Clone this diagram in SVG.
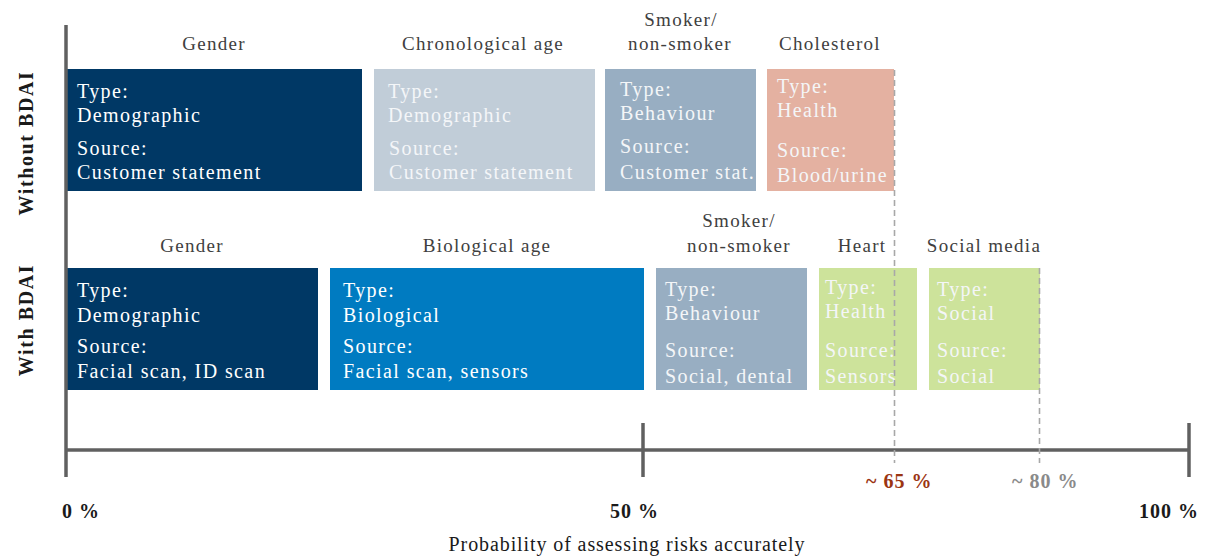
<svg xmlns="http://www.w3.org/2000/svg" width="1207" height="556" viewBox="0 0 1207 556">
<style>
text{font-family:"Liberation Serif","Times New Roman",serif}
.hd{font-size:19px;fill:#404040;letter-spacing:1.3px;text-anchor:middle}
.bx{font-size:20px;fill:#ffffff;letter-spacing:1.4px}
.lt{fill:#f4f6f8}
.side{font-size:20px;font-weight:bold;fill:#1a1a1a;letter-spacing:1.6px;text-anchor:middle}
.pct{font-size:20px;font-weight:bold;fill:#1a1a1a;letter-spacing:1px}
.axis{stroke:#606060;stroke-width:3.5;fill:none}
.dash{stroke:#a8a8a8;stroke-width:1.6;stroke-dasharray:6,4;fill:none}
</style>
<rect width="1207" height="556" fill="#ffffff"/>

<g id="side-labels">
<text class="side" transform="translate(33,143) rotate(-90)">Without BDAI</text>
<text class="side" transform="translate(33,320) rotate(-90)">With BDAI</text>
</g>

<g id="row1-gender">
<text class="hd" x="214" y="50">Gender</text>
<rect x="66" y="69" width="296" height="122" fill="#003865"/>
<text class="bx" x="77" y="98">Type:</text>
<text class="bx" x="77" y="122">Demographic</text>
<text class="bx" x="77" y="155">Source:</text>
<text class="bx" x="77" y="179">Customer statement</text>
</g>

<g id="row1-chronological-age">
<text class="hd" x="483" y="50">Chronological age</text>
<rect x="374" y="69" width="221" height="122" fill="#c1cdd8"/>
<text class="bx lt" x="388" y="98">Type:</text>
<text class="bx lt" x="388" y="122">Demographic</text>
<text class="bx lt" x="389" y="155">Source:</text>
<text class="bx lt" x="389" y="179">Customer statement</text>
</g>

<g id="row1-smoker">
<text class="hd" x="681" y="26">Smoker/</text>
<text class="hd" x="680" y="50">non-smoker</text>
<rect x="605" y="69" width="151" height="122" fill="#98aec2"/>
<text class="bx lt" x="620" y="96">Type:</text>
<text class="bx lt" x="620" y="120">Behaviour</text>
<text class="bx lt" x="620" y="153">Source:</text>
<text class="bx lt" x="620" y="179">Customer stat.</text>
</g>

<g id="row1-cholesterol">
<text class="hd" x="830" y="50">Cholesterol</text>
<rect x="767" y="69" width="127" height="122" fill="#e4b1a1"/>
<text class="bx lt" x="777" y="93">Type:</text>
<text class="bx lt" x="777" y="117">Health</text>
<text class="bx lt" x="777" y="157">Source:</text>
<text class="bx lt" x="777" y="182">Blood/urine</text>
</g>

<g id="row2-gender">
<text class="hd" x="192" y="252">Gender</text>
<rect x="66" y="268" width="252" height="122" fill="#003865"/>
<text class="bx" x="77" y="297">Type:</text>
<text class="bx" x="77" y="322">Demographic</text>
<text class="bx" x="77" y="353">Source:</text>
<text class="bx" x="77" y="378">Facial scan, ID scan</text>
</g>

<g id="row2-biological-age">
<text class="hd" x="487" y="252">Biological age</text>
<rect x="330" y="268" width="314" height="122" fill="#007bc1"/>
<text class="bx" x="343" y="297">Type:</text>
<text class="bx" x="343" y="322">Biological</text>
<text class="bx" x="343" y="353">Source:</text>
<text class="bx" x="343" y="378">Facial scan, sensors</text>
</g>

<g id="row2-smoker">
<text class="hd" x="739" y="227">Smoker/</text>
<text class="hd" x="739" y="252">non-smoker</text>
<rect x="656" y="268" width="151" height="122" fill="#98aec2"/>
<text class="bx lt" x="665" y="296">Type:</text>
<text class="bx lt" x="665" y="320">Behaviour</text>
<text class="bx lt" x="665" y="357">Source:</text>
<text class="bx lt" x="665" y="383">Social, dental</text>
</g>

<g id="row2-heart">
<text class="hd" x="862" y="252">Heart</text>
<rect x="819" y="268" width="98" height="122" fill="#cde39b"/>
<text class="bx lt" x="825" y="294">Type:</text>
<text class="bx lt" x="825" y="318">Health</text>
<text class="bx lt" x="825" y="357">Source:</text>
<text class="bx lt" x="825" y="383">Sensors</text>
</g>

<g id="row2-social-media">
<text class="hd" x="984" y="252">Social media</text>
<rect x="929" y="268" width="111" height="122" fill="#cde39b"/>
<text class="bx lt" x="937" y="296">Type:</text>
<text class="bx lt" x="937" y="320">Social</text>
<text class="bx lt" x="937" y="357">Source:</text>
<text class="bx lt" x="937" y="383">Social</text>
</g>

<g id="connectors">
<line class="axis" x1="66" y1="25" x2="66" y2="477"/>
<line class="axis" x1="66" y1="450" x2="1189" y2="450"/>
<line class="axis" x1="643" y1="423" x2="643" y2="477"/>
<line class="axis" x1="1189" y1="423" x2="1189" y2="477"/>
<line class="dash" x1="894.5" y1="70" x2="894.5" y2="463"/>
<line class="dash" x1="1039.5" y1="268" x2="1039.5" y2="463"/>
</g>

<g id="axis-labels">
<text class="pct" x="62" y="518">0 %</text>
<text class="pct" x="610" y="518">50 %</text>
<text class="pct" x="1139" y="518">100 %</text>
<text class="pct" x="866" y="488" style="fill:#9b3512">~ 65 %</text>
<text class="pct" x="1012" y="488" style="fill:#8a8a8a">~ 80 %</text>
<text x="627" y="551" text-anchor="middle" style="font-size:20px;fill:#1a1a1a;letter-spacing:0.9px">Probability of assessing risks accurately</text>
</g>
</svg>
